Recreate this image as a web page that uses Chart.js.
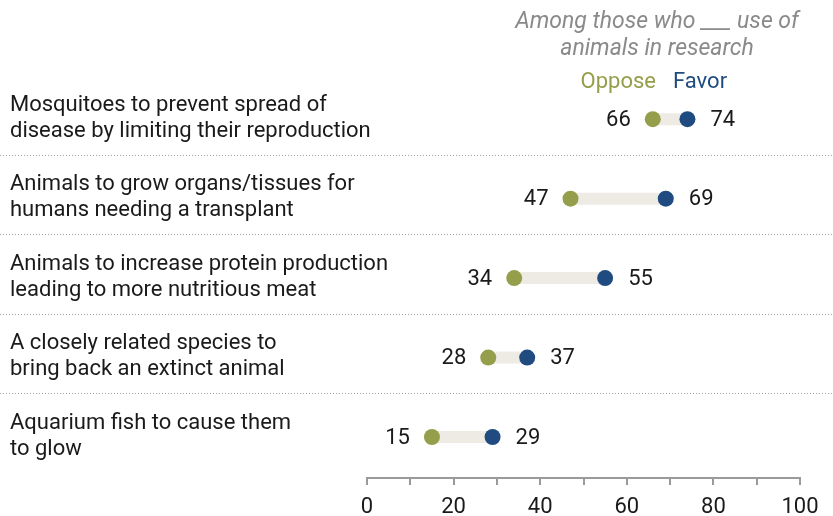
<!DOCTYPE html>
<html>
<head>
<meta charset="utf-8">
<script src="https://cdn.jsdelivr.net/npm/chart.js@4/dist/chart.umd.min.js"></script>
<style>
  html, body { margin: 0; padding: 0; background: #fff; }
  #wrap { width: 833px; height: 516px; }
</style>
</head>
<body>
<div id="wrap"><canvas id="grafico"></canvas></div>
<script>
// dados
var perguntas = [
  ["Mosquitoes to prevent spread of", "disease by limiting their reproduction"],
  ["Animals to grow organs/tissues for", "humans needing a transplant"],
  ["Animals to increase protein production", "leading to more nutritious meat"],
  ["A closely related species to", "bring back an extinct animal"],
  ["Aquarium fish to cause them", "to glow"]
]
var oppose = [66, 47, 34, 28, 15]
var favor = [74, 69, 55, 37, 29]
var tickLabels = [0, 20, 40, 60, 80, 100]
var titulo = ["Among those who ___ use of", "animals in research"]

var corOppose = "#959E4A"
var corFavor = "#1F4B80"
var fonte = "Roboto, 'Liberation Sans', sans-serif"

// pontos para as barras de ligação (null quebra a linha)
var ligacoes = []
for (let i = 0; i < oppose.length; i++) {
    ligacoes.push({x: oppose[i], y: i}, {x: favor[i], y: i}, {x: null, y: null})
}

var textos = { //plugin que desenha textos, separadores e valores
    id: "textos",
    beforeDatasetsDraw(chart) {
        let ctx = chart.ctx
        let y = chart.scales.y
        ctx.save()
        ctx.strokeStyle = "#a0a0a0"
        ctx.lineWidth = 1
        ctx.setLineDash([1, 2])
        for (let i = 0; i < perguntas.length - 1; i++) {
            let py = Math.round(y.getPixelForValue(i + 0.45)) + 0.5
            ctx.beginPath()
            ctx.moveTo(0, py)
            ctx.lineTo(chart.width, py)
            ctx.stroke()
        }
        ctx.restore()
    },
    afterDraw(chart) {
        let ctx = chart.ctx
        let x = chart.scales.x
        let y = chart.scales.y
        ctx.save()
        ctx.textBaseline = "middle"
        // perguntas
        ctx.fillStyle = "#1a1a1a"
        ctx.font = "22px " + fonte
        ctx.textAlign = "left"
        perguntas.forEach((linhas, i) => {
            let py = y.getPixelForValue(i)
            ctx.fillText(linhas[0], 10, py - 14)
            ctx.fillText(linhas[1], 10, py + 12)
        })
        // valores
        ctx.font = "22px " + fonte
        for (let i = 0; i < oppose.length; i++) {
            let py = y.getPixelForValue(i)
            ctx.textAlign = "right"
            ctx.fillText(String(oppose[i]), x.getPixelForValue(oppose[i]) - 22, py + 1)
            ctx.textAlign = "left"
            ctx.fillText(String(favor[i]), x.getPixelForValue(favor[i]) + 23, py + 1)
        }
        // cabeçalho
        ctx.font = "italic 23px " + fonte
        ctx.fillStyle = "#8a8a8a"
        ctx.textAlign = "center"
        ctx.fillText(titulo[0], 657, 22)
        ctx.fillText(titulo[1], 657, 49)
        ctx.font = "22px " + fonte
        ctx.textAlign = "right"
        ctx.fillStyle = corOppose
        ctx.fillText("Oppose", 656, 82)
        ctx.textAlign = "left"
        ctx.fillStyle = corFavor
        ctx.fillText("Favor", 673, 82)
        ctx.restore()
    }
}

new Chart("grafico", {
    type: "scatter",
    data: {
        datasets: [
            {
                type: "line",
                data: ligacoes,
                borderColor: "#EDEBE4",
                borderWidth: 12,
                borderCapStyle: "butt",
                pointRadius: 0,
                spanGaps: false,
                order: 3
            },
            {
                label: "Oppose",
                data: oppose.map((v, i) => ({x: v, y: i})),
                backgroundColor: corOppose,
                borderWidth: 0,
                pointRadius: 8,
                order: 1
            },
            {
                label: "Favor",
                data: favor.map((v, i) => ({x: v, y: i})),
                backgroundColor: corFavor,
                borderWidth: 0,
                pointRadius: 8,
                order: 2
            }
        ]
    },
    options: {
        responsive: true,
        maintainAspectRatio: false,
        animation: false,
        layout: { padding: { left: 367, right: 33, top: 40, bottom: 0 } },
        plugins: { legend: { display: false }, tooltip: { enabled: false } },
        scales: {
            x: {
                type: "linear",
                min: 0,
                max: 100,
                afterBuildTicks(scale) {
                    scale.ticks = []
                    for (let v = 0; v <= 100; v += 10) scale.ticks.push({value: v})
                },
                afterFit(scale) { scale.height = 38 },
                border: { display: true, color: "#9a9a9a", width: 2 },
                grid: { drawOnChartArea: false, drawTicks: true, tickLength: 7, color: "#9a9a9a", lineWidth: 2 },
                ticks: {
                    color: "#1a1a1a",
                    font: { family: fonte, size: 22 },
                    padding: 9,
                    maxRotation: 0,
                    autoSkip: false,
                    callback: v => tickLabels.includes(v) ? String(v) : ""
                }
            },
            y: {
                type: "linear",
                display: false,
                reverse: true,
                min: -0.997,
                max: 4.516
            }
        }
    },
    plugins: [textos]
})
</script>
</body>
</html>
